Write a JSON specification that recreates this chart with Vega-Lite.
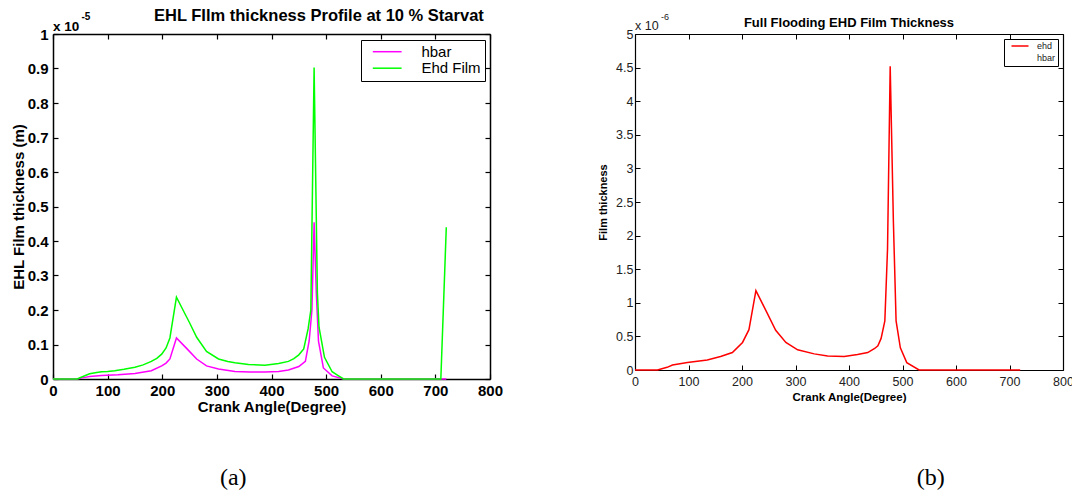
{
  "$schema": "https://vega.github.io/schema/vega-lite/v6.json",
  "background": "white",
  "padding": {"left": 11, "top": 7, "right": 0, "bottom": 0},
  "config": {"view": {"stroke": null}, "axis": {"grid": false}},
  "bounds": "flush",
  "spacing": 145,
  "datasets": {
    "starved": [
      {"angle": 0, "h": 0, "series": "hbar"},
      {"angle": 44, "h": 0, "series": "hbar"},
      {"angle": 56, "h": 0.004, "series": "hbar"},
      {"angle": 67, "h": 0.007, "series": "hbar"},
      {"angle": 89, "h": 0.010, "series": "hbar"},
      {"angle": 119, "h": 0.012, "series": "hbar"},
      {"angle": 150, "h": 0.016, "series": "hbar"},
      {"angle": 180, "h": 0.024, "series": "hbar"},
      {"angle": 199, "h": 0.038, "series": "hbar"},
      {"angle": 207, "h": 0.046, "series": "hbar"},
      {"angle": 214, "h": 0.058, "series": "hbar"},
      {"angle": 226, "h": 0.119, "series": "hbar"},
      {"angle": 245, "h": 0.088, "series": "hbar"},
      {"angle": 263, "h": 0.058, "series": "hbar"},
      {"angle": 281, "h": 0.038, "series": "hbar"},
      {"angle": 303, "h": 0.029, "series": "hbar"},
      {"angle": 333, "h": 0.022, "series": "hbar"},
      {"angle": 360, "h": 0.020, "series": "hbar"},
      {"angle": 388, "h": 0.020, "series": "hbar"},
      {"angle": 413, "h": 0.022, "series": "hbar"},
      {"angle": 431, "h": 0.026, "series": "hbar"},
      {"angle": 450, "h": 0.036, "series": "hbar"},
      {"angle": 462, "h": 0.051, "series": "hbar"},
      {"angle": 469, "h": 0.111, "series": "hbar"},
      {"angle": 474, "h": 0.2, "series": "hbar"},
      {"angle": 478, "h": 0.454, "series": "hbar"},
      {"angle": 482, "h": 0.25, "series": "hbar"},
      {"angle": 486, "h": 0.11, "series": "hbar"},
      {"angle": 495, "h": 0.032, "series": "hbar"},
      {"angle": 511, "h": 0.009, "series": "hbar"},
      {"angle": 532, "h": 0, "series": "hbar"},
      {"angle": 600, "h": 0, "series": "hbar"},
      {"angle": 720, "h": 0, "series": "hbar"},
      {"angle": 0, "h": 0, "series": "Ehd Film"},
      {"angle": 44, "h": 0, "series": "Ehd Film"},
      {"angle": 56, "h": 0.008, "series": "Ehd Film"},
      {"angle": 67, "h": 0.015, "series": "Ehd Film"},
      {"angle": 80, "h": 0.019, "series": "Ehd Film"},
      {"angle": 89, "h": 0.021, "series": "Ehd Film"},
      {"angle": 100, "h": 0.022, "series": "Ehd Film"},
      {"angle": 113, "h": 0.024, "series": "Ehd Film"},
      {"angle": 130, "h": 0.028, "series": "Ehd Film"},
      {"angle": 150, "h": 0.034, "series": "Ehd Film"},
      {"angle": 165, "h": 0.041, "series": "Ehd Film"},
      {"angle": 180, "h": 0.051, "series": "Ehd Film"},
      {"angle": 190, "h": 0.060, "series": "Ehd Film"},
      {"angle": 199, "h": 0.072, "series": "Ehd Film"},
      {"angle": 207, "h": 0.090, "series": "Ehd Film"},
      {"angle": 214, "h": 0.119, "series": "Ehd Film"},
      {"angle": 226, "h": 0.237, "series": "Ehd Film"},
      {"angle": 238, "h": 0.200, "series": "Ehd Film"},
      {"angle": 250, "h": 0.163, "series": "Ehd Film"},
      {"angle": 263, "h": 0.121, "series": "Ehd Film"},
      {"angle": 281, "h": 0.080, "series": "Ehd Film"},
      {"angle": 303, "h": 0.058, "series": "Ehd Film"},
      {"angle": 320, "h": 0.051, "series": "Ehd Film"},
      {"angle": 333, "h": 0.047, "series": "Ehd Film"},
      {"angle": 358, "h": 0.042, "series": "Ehd Film"},
      {"angle": 388, "h": 0.040, "series": "Ehd Film"},
      {"angle": 413, "h": 0.045, "series": "Ehd Film"},
      {"angle": 431, "h": 0.051, "series": "Ehd Film"},
      {"angle": 441, "h": 0.059, "series": "Ehd Film"},
      {"angle": 450, "h": 0.070, "series": "Ehd Film"},
      {"angle": 459, "h": 0.087, "series": "Ehd Film"},
      {"angle": 467, "h": 0.145, "series": "Ehd Film"},
      {"angle": 472, "h": 0.2, "series": "Ehd Film"},
      {"angle": 478, "h": 0.903, "series": "Ehd Film"},
      {"angle": 484, "h": 0.25, "series": "Ehd Film"},
      {"angle": 487, "h": 0.15, "series": "Ehd Film"},
      {"angle": 497, "h": 0.063, "series": "Ehd Film"},
      {"angle": 511, "h": 0.021, "series": "Ehd Film"},
      {"angle": 522, "h": 0.010, "series": "Ehd Film"},
      {"angle": 532, "h": 0, "series": "Ehd Film"},
      {"angle": 600, "h": 0, "series": "Ehd Film"},
      {"angle": 700, "h": 0, "series": "Ehd Film"},
      {"angle": 710, "h": 0, "series": "Ehd Film"},
      {"angle": 720, "h": 0.44, "series": "Ehd Film"}
    ],
    "flooded": [
      {"angle": 0, "h": 0, "series": "ehd"},
      {"angle": 42, "h": 0, "series": "ehd"},
      {"angle": 60, "h": 0.04, "series": "ehd"},
      {"angle": 70, "h": 0.075, "series": "ehd"},
      {"angle": 98, "h": 0.11, "series": "ehd"},
      {"angle": 135, "h": 0.15, "series": "ehd"},
      {"angle": 160, "h": 0.20, "series": "ehd"},
      {"angle": 182, "h": 0.26, "series": "ehd"},
      {"angle": 201, "h": 0.41, "series": "ehd"},
      {"angle": 213, "h": 0.60, "series": "ehd"},
      {"angle": 226, "h": 1.18, "series": "ehd"},
      {"angle": 245, "h": 0.88, "series": "ehd"},
      {"angle": 263, "h": 0.59, "series": "ehd"},
      {"angle": 282, "h": 0.41, "series": "ehd"},
      {"angle": 304, "h": 0.30, "series": "ehd"},
      {"angle": 335, "h": 0.24, "series": "ehd"},
      {"angle": 360, "h": 0.21, "series": "ehd"},
      {"angle": 391, "h": 0.20, "series": "ehd"},
      {"angle": 416, "h": 0.23, "series": "ehd"},
      {"angle": 435, "h": 0.26, "series": "ehd"},
      {"angle": 448, "h": 0.32, "series": "ehd"},
      {"angle": 454, "h": 0.36, "series": "ehd"},
      {"angle": 460, "h": 0.47, "series": "ehd"},
      {"angle": 467, "h": 0.73, "series": "ehd"},
      {"angle": 472, "h": 1.8, "series": "ehd"},
      {"angle": 477, "h": 4.52, "series": "ehd"},
      {"angle": 483, "h": 2.2, "series": "ehd"},
      {"angle": 488, "h": 0.73, "series": "ehd"},
      {"angle": 496, "h": 0.33, "series": "ehd"},
      {"angle": 508, "h": 0.11, "series": "ehd"},
      {"angle": 531, "h": 0, "series": "ehd"},
      {"angle": 600, "h": 0, "series": "ehd"},
      {"angle": 720, "h": 0, "series": "ehd"}
    ]
  },
  "hconcat": [
    {
      "width": 437,
      "height": 345,
      "title": {"text": "EHL FIlm thickness Profile at 10 % Starvat", "anchor": "start", "frame": "group", "dx": 101, "dy": 25, "offset": 0, "baseline": "alphabetic", "font": "Liberation Sans", "fontSize": 16.5, "fontWeight": "bold", "color": "black"},
      "resolve": {"axis": {"x": "independent", "y": "independent"}},
      "layer": [
        {
          "data": {"name": "starved"},
          "mark": {"type": "line", "strokeWidth": 1.5},
          "encoding": {
            "x": {"field": "angle", "type": "quantitative", "scale": {"domain": [0, 800], "nice": false, "zero": false},
              "axis": {"orient": "bottom", "values": [0, 100, 200, 300, 400, 500, 600, 700, 800], "format": "d", "tickSize": -5, "tickColor": "black", "tickWidth": 1.2, "domainColor": "black", "domainWidth": 1.5, "labelPadding": 9.5, "labelFlush": false, "labelOverlap": false, "labelFont": "Liberation Sans", "labelFontSize": 15, "labelFontWeight": "bold", "labelColor": "black", "title": "Crank Angle(Degree)", "titleFont": "Liberation Sans", "titleFontSize": 15, "titleFontWeight": "bold", "titleColor": "black", "titlePadding": 1}},
            "y": {"field": "h", "type": "quantitative", "scale": {"domain": [0, 1], "nice": false, "zero": false},
              "axis": {"orient": "left", "values": [0, 0.1, 0.2, 0.3, 0.4, 0.5, 0.6, 0.7, 0.8, 0.9, 1], "format": ".1~f", "tickSize": -5, "tickColor": "black", "tickWidth": 1.2, "domainColor": "black", "domainWidth": 1.5, "labelPadding": 10, "labelFlush": false, "labelOverlap": false, "labelFont": "Liberation Sans", "labelFontSize": 15, "labelFontWeight": "bold", "labelColor": "black", "title": "EHL Film thickness (m)", "titleFont": "Liberation Sans", "titleFontSize": 15, "titleFontWeight": "bold", "titleColor": "black", "titlePadding": 1}},
            "color": {"field": "series", "type": "nominal", "scale": {"domain": ["hbar", "Ehd Film"], "range": ["#ff00ff", "#00ff00"]},
              "legend": {"orient": "top-right", "offset": 5.5, "title": null, "strokeColor": "black", "fillColor": "white", "padding": 4.2, "rowPadding": 0.5, "symbolType": "M-7.2,0H7.2", "symbolSize": 16, "symbolStrokeWidth": 1.5, "symbolOffset": 14.5, "labelOffset": 26.7, "labelFont": "Liberation Sans", "labelFontSize": 15, "labelColor": "black"}}
          }
        },
        {
          "data": {"values": [{}]},
          "mark": {"type": "text", "text": "x 10", "align": "left", "baseline": "alphabetic", "dy": -3, "font": "Liberation Sans", "fontSize": 13.5, "fontWeight": "bold", "color": "black"},
          "encoding": {
            "x": {"datum": 0, "type": "quantitative", "scale": {"domain": [0, 800], "nice": false, "zero": false},
              "axis": {"orient": "top", "values": [0, 100, 200, 300, 400, 500, 600, 700, 800], "labels": false, "title": null, "tickSize": -5, "tickColor": "black", "tickWidth": 1.2, "domainColor": "black", "domainWidth": 1.5}},
            "y": {"datum": 1, "type": "quantitative", "scale": {"domain": [0, 1], "nice": false, "zero": false},
              "axis": {"orient": "right", "values": [0, 0.1, 0.2, 0.3, 0.4, 0.5, 0.6, 0.7, 0.8, 0.9, 1], "labels": false, "title": null, "tickSize": -5, "tickColor": "black", "tickWidth": 1.2, "domainColor": "black", "domainWidth": 1.5}}
          }
        },
        {
          "data": {"values": [{}]},
          "mark": {"type": "text", "text": "-5", "align": "left", "baseline": "alphabetic", "dx": 28.5, "dy": -14, "font": "Liberation Sans", "fontSize": 10, "fontWeight": "bold", "color": "black"},
          "encoding": {
            "x": {"datum": 0, "type": "quantitative", "scale": {"domain": [0, 800], "nice": false, "zero": false}, "axis": null},
            "y": {"datum": 1, "type": "quantitative", "scale": {"domain": [0, 1], "nice": false, "zero": false}, "axis": null}
          }
        },
        {
          "data": {"values": [{}]},
          "mark": {"type": "text", "text": "(a)", "align": "center", "baseline": "middle", "font": "Liberation Serif", "fontSize": 24, "color": "black"},
          "encoding": {
            "x": {"datum": 330, "type": "quantitative", "scale": {"domain": [0, 800], "nice": false, "zero": false}, "axis": null},
            "y": {"datum": -0.287, "type": "quantitative", "scale": {"domain": [0, 1], "nice": false, "zero": false}, "axis": null}
          }
        }
      ]
    },
    {
      "width": 428,
      "height": 336,
      "title": {"text": "Full Flooding EHD Film Thickness", "anchor": "middle", "frame": "group", "dy": 26.5, "offset": 0, "baseline": "alphabetic", "font": "Liberation Sans", "fontSize": 13, "fontWeight": "bold", "color": "black"},
      "resolve": {"axis": {"x": "independent", "y": "independent"}},
      "layer": [
        {
          "data": {"name": "flooded"},
          "mark": {"type": "line", "strokeWidth": 1.5},
          "encoding": {
            "x": {"field": "angle", "type": "quantitative", "scale": {"domain": [0, 800], "nice": false, "zero": false},
              "axis": {"orient": "bottom", "values": [0, 100, 200, 300, 400, 500, 600, 700, 800], "format": "d", "tickSize": -5, "tickColor": "black", "tickWidth": 1, "domainColor": "black", "domainWidth": 1.2, "labelPadding": 10, "labelFlush": false, "labelOverlap": false, "labelFont": "Liberation Sans", "labelFontSize": 12.5, "labelColor": "#222222", "title": "Crank Angle(Degree)", "titleFont": "Liberation Sans", "titleFontSize": 11.5, "titleFontWeight": "bold", "titleColor": "black", "titlePadding": 4}},
            "y": {"field": "h", "type": "quantitative", "scale": {"domain": [0, 5], "nice": false, "zero": false},
              "axis": {"orient": "left", "values": [0, 0.5, 1, 1.5, 2, 2.5, 3, 3.5, 4, 4.5, 5], "format": ".1~f", "tickSize": -5, "tickColor": "black", "tickWidth": 1, "domainColor": "black", "domainWidth": 1.2, "labelPadding": 7, "labelFlush": false, "labelOverlap": false, "labelFont": "Liberation Sans", "labelFontSize": 12.5, "labelColor": "#222222", "title": "Film thickness", "titleFont": "Liberation Sans", "titleFontSize": 11, "titleFontWeight": "bold", "titleColor": "black", "titlePadding": 7}},
            "color": {"field": "series", "type": "nominal", "scale": {"domain": ["ehd", "hbar"], "range": ["#ff0000", "#ffffff"]},
              "legend": {"orient": "top-right", "offset": 5, "title": null, "strokeColor": "black", "fillColor": "white", "padding": 2.5, "rowPadding": 2, "symbolType": "M-4.25,0H4.25", "symbolSize": 16, "symbolStrokeWidth": 1.5, "symbolOffset": 9, "labelOffset": 12.5, "labelFont": "Liberation Sans", "labelFontSize": 9, "labelColor": "#222222"}}
          }
        },
        {
          "data": {"values": [{}]},
          "mark": {"type": "text", "text": "x 10", "align": "left", "baseline": "alphabetic", "dy": -4, "font": "Liberation Sans", "fontSize": 12.5, "color": "#222222"},
          "encoding": {
            "x": {"datum": 0, "type": "quantitative", "scale": {"domain": [0, 800], "nice": false, "zero": false},
              "axis": {"orient": "top", "values": [0, 100, 200, 300, 400, 500, 600, 700, 800], "labels": false, "title": null, "tickSize": -5, "tickColor": "black", "tickWidth": 1, "domainColor": "black", "domainWidth": 1.2}},
            "y": {"datum": 5, "type": "quantitative", "scale": {"domain": [0, 5], "nice": false, "zero": false},
              "axis": {"orient": "right", "values": [0, 0.5, 1, 1.5, 2, 2.5, 3, 3.5, 4, 4.5, 5], "labels": false, "title": null, "tickSize": -5, "tickColor": "black", "tickWidth": 1, "domainColor": "black", "domainWidth": 1.2}}
          }
        },
        {
          "data": {"values": [{}]},
          "mark": {"type": "text", "text": "-6", "align": "left", "baseline": "alphabetic", "dx": 26, "dy": -14, "font": "Liberation Sans", "fontSize": 9, "color": "#222222"},
          "encoding": {
            "x": {"datum": 0, "type": "quantitative", "scale": {"domain": [0, 800], "nice": false, "zero": false}, "axis": null},
            "y": {"datum": 5, "type": "quantitative", "scale": {"domain": [0, 5], "nice": false, "zero": false}, "axis": null}
          }
        },
        {
          "data": {"values": [{}]},
          "mark": {"type": "text", "text": "(b)", "align": "center", "baseline": "middle", "font": "Liberation Serif", "fontSize": 24, "color": "black"},
          "encoding": {
            "x": {"datum": 553, "type": "quantitative", "scale": {"domain": [0, 800], "nice": false, "zero": false}, "axis": null},
            "y": {"datum": -1.607, "type": "quantitative", "scale": {"domain": [0, 5], "nice": false, "zero": false}, "axis": null}
          }
        }
      ]
    }
  ],
  "resolve": {"scale": {"color": "independent", "x": "independent", "y": "independent"}, "legend": {"color": "independent"}}
}
